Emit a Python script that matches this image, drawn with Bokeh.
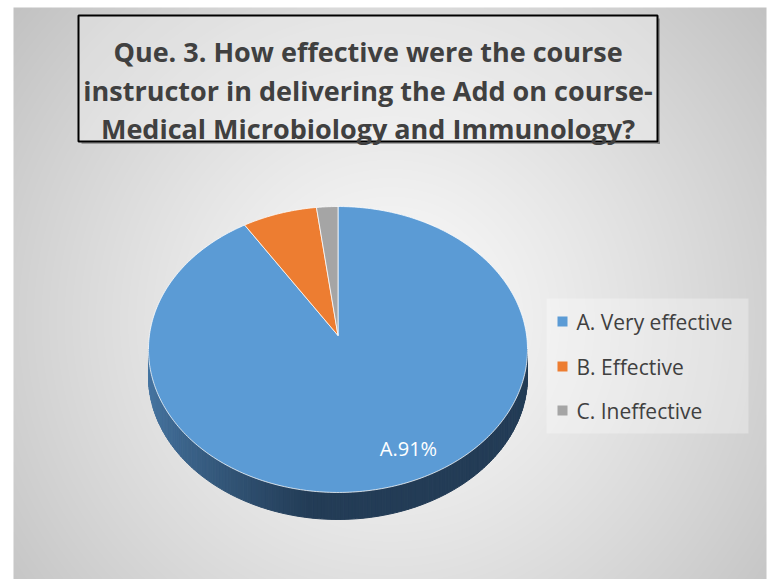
import numpy as np
from bokeh.plotting import figure
from bokeh.models import Range1d
from bokeh.core.properties import value
from bokeh.embed import file_html
from bokeh.resources import INLINE

# ---------------- data ----------------
title_lines = [
    "Que. 3. How effective were the course",
    "instructor in delivering the Add on course-",
    "Medical Microbiology and Immunology?",
]
categories = ["A. Very effective", "B. Effective", "C. Ineffective"]
letters = ["A", "B", "C"]
percent = [91, 7, 2]
colors = ["#5b9bd5", "#ed7d31", "#a5a5a5"]

# ---------------- layout ----------------
W, H = 770, 579
OX, OY = 0, 0


def Y(py):
    """page y (pixels, downwards) -> data y (upwards)"""
    return (OY + H) - np.asarray(py, dtype=float)


p = figure(width=W, height=H, x_range=Range1d(OX, OX + W), y_range=Range1d(0, H),
           output_backend="svg", toolbar_location=None, min_border=0,
           x_axis_location=None, y_axis_location=None)
p.grid.visible = False
p.outline_line_color = None
p.background_fill_color = "white"
p.border_fill_color = "white"

# ---------------- radial gradient background ----------------
bx0, bx1 = 13, 766
by0, by1 = 7, 579
bw, bh = bx1 - bx0, by1 - by0
gcx, gcy = 390.0, 320.0
jj, ii = np.meshgrid(np.arange(bw), np.arange(bh))
gx = bx0 + jj + 0.5
gy = by1 - ii - 0.5
R = np.hypot(max(gcx - bx0, bx1 - gcx), max(gcy - by0, by1 - gcy))
r = np.clip(np.hypot(gx - gcx, gy - gcy) / R, 0, 1)
g = np.clip(251 - 57 * r ** 1.2, 0, 255).astype(np.uint8)
img = np.empty((bh, bw), dtype=np.uint32)
view = img.view(dtype=np.uint8).reshape((bh, bw, 4))
view[..., 0] = g
view[..., 1] = g
view[..., 2] = g
view[..., 3] = 255
p.image_rgba(image=[img], x=bx0, y=float(Y(by1)), dw=bw, dh=bh)

# ---------------- 3D pie ----------------
cx, cy = 337.5, 335.0     # apex on page
k = 0.0979                 # perspective factor
A_ = 141.6
B_ = 188.6
D = 27.0                   # depth of the pie wall


def proj(theta_deg, rr=1.0):
    t = np.radians(theta_deg)
    u = rr * np.sin(t)
    v = rr * np.cos(t)
    den = 1 + k * v
    return cx + B_ * u / den, cy - A_ * v / den


# side wall (front half)
th_all = np.arange(0, 360.0, 0.5)
xa, _ = proj(th_all)
t_right = th_all[np.argmax(xa)]
t_left = th_all[np.argmin(xa)]
ths = np.linspace(t_right, t_left, 160)
c_light = np.array([0x46, 0x74, 0xa0])
c_dark = np.array([0x23, 0x3c, 0x56])
side_xs, side_ys, side_cols = [], [], []
for a0, a1 in zip(ths[:-1], ths[1:]):
    x0, y0 = proj(a0)
    x1, y1 = proj(a1)
    side_xs.append([x0, x1, x1, x0])
    side_ys.append(list(Y([y0, y1, y1 + D, y0 + D])))
    tt = np.clip(((x0 + x1) / 2 - 150) / 160, 0, 1) ** 0.8
    c = (c_light * (1 - tt) + c_dark * tt).astype(int)
    side_cols.append("#%02x%02x%02x" % tuple(c))
p.patches(side_xs, side_ys, fill_color=side_cols, line_color=side_cols, line_width=1)

# top faces
total = float(sum(percent))
start = 0.0
slice_xs, slice_ys = [], []
for val in percent:
    end = start + 360.0 * val / total
    th = np.linspace(start, end, max(4, int(val * 4)))
    px, py = proj(th)
    slice_xs.append([cx] + list(px))
    slice_ys.append(list(Y([cy] + list(py))))
    start = end
p.patches(slice_xs, slice_ys, fill_color=colors, line_color="white",
          line_alpha=0.75, line_width=1)

# data label
p.text(x=[408], y=Y([448]), text=[f"{letters[0]}.{percent[0]}%"],
       text_color="white", text_font=value("Open Sans"), text_font_size="20px",
       text_align="center", text_baseline="middle")

# ---------------- title box ----------------
tb_l, tb_r, tb_t, tb_b = 78, 657, 15, 141
# soft shadow on right and bottom edges
p.quad(left=[tb_r, tb_l + 3], right=[tb_r + 2.5, tb_r + 2.5],
       top=Y([tb_t + 3, tb_b]), bottom=Y([tb_b + 2.5, tb_b + 2.5]),
       fill_color="#555555", fill_alpha=0.45, line_color=None)
p.quad(left=[tb_l], right=[tb_r], top=Y([tb_t]), bottom=Y([tb_b]),
       fill_color="white", fill_alpha=0.3, line_color="black", line_width=2)
p.text(x=[367.5] * 3, y=Y([51, 89.5, 127.5]), text=title_lines,
       text_color="#404040", text_font=value("Open Sans"), text_font_style="bold",
       text_font_size="27px", text_align="center", text_baseline="alphabetic")

# ---------------- legend ----------------
lg_l, lg_r, lg_t, lg_b = 546, 748, 298, 433
p.quad(left=[lg_l], right=[lg_r], top=Y([lg_t]), bottom=Y([lg_b]),
       fill_color="white", fill_alpha=0.3, line_color=None)
leg_y = [321, 366, 410]
p.scatter(x=[562] * 3, y=Y(leg_y), marker="square", size=10,
          fill_color=colors, line_color=None)
p.text(x=[576] * 3, y=Y(leg_y), text=categories, text_color="#404040",
       text_font=value("Open Sans"), text_font_size="21px", text_align="left",
       text_baseline="middle")

open("out.html", "w").write(file_html(p, INLINE))
